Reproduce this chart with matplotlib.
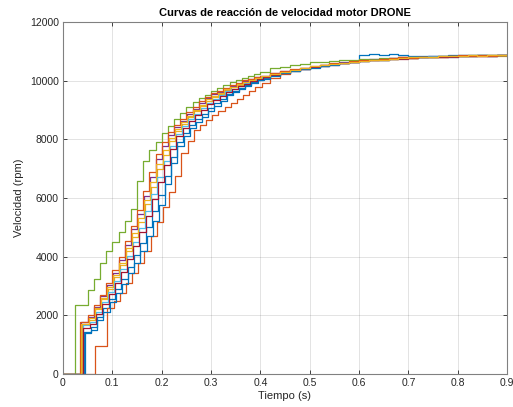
import numpy as np
import matplotlib
matplotlib.use("Agg")
import matplotlib.pyplot as plt

plt.rcParams["font.family"] = ["Liberation Sans", "DejaVu Sans"]

# MATLAB default colour order
BLUE, ORANGE, YELLOW, PURPLE = "#0072BD", "#D95319", "#EDB120", "#7E2F8E"
GREEN, LBLUE, DRED = "#77AC30", "#4DBEEE", "#A2142F"

DT = 0.0125
RISE_T = 0.0375 + DT * np.arange(1, 30)           # shared rise sample times (cluster)
TAIL_T = np.round(0.42 + 0.02 * np.arange(25), 3)  # shared tail sample times

# cluster curves: start time, first level, time shift, rise values, tail values
c1_t0, c1_lvl, c1_dt = 0.043, 1440, 0.006
c1_rise = [1600, 1930, 2240, 2570, 2910, 3250, 3650, 4040, 4480, 5010, 5540, 6100, 6760, 7410,
           7920, 8230, 8500, 8690, 8880, 9060, 9230, 9390, 9550, 9650, 9750, 9850, 9950, 10030, 10090]
c1_tail = [10180, 10270, 10340, 10400, 10460, 10510, 10560, 10600, 10640, 10860, 10900, 10870, 10920,
           10880, 10840, 10830, 10850, 10840, 10860, 10870, 10880, 10870, 10890, 10880, 10880]

c3_t0, c3_lvl, c3_dt = 0.038, 1700, 0.003
c3_rise = [1850, 2200, 2540, 2890, 3300, 3710, 4190, 4680, 5180, 5780, 6370, 6980, 7480, 7940,
           8270, 8530, 8760, 8950, 9130, 9310, 9440, 9560, 9680, 9770, 9860, 9950, 10020, 10090, 10140]
c3_tail = [10230, 10300, 10360, 10430, 10470, 10530, 10560, 10610, 10640, 10690, 10700, 10740, 10740,
           10770, 10780, 10800, 10820, 10810, 10840, 10850, 10840, 10860, 10870, 10850, 10870]

c4_t0, c4_lvl, c4_dt = 0.036, 1760, 0.001
c4_rise = [1950, 2300, 2660, 3020, 3460, 3890, 4410, 4930, 5460, 6080, 6710, 7330, 7770, 8150,
           8420, 8640, 8860, 9050, 9240, 9410, 9530, 9630, 9720, 9820, 9900, 9990, 10050, 10110, 10160]
c4_tail = [10250, 10320, 10370, 10440, 10480, 10550, 10570, 10630, 10650, 10690, 10740, 10730, 10770,
           10800, 10790, 10810, 10830, 10820, 10850, 10840, 10870, 10850, 10880, 10860, 10880]

c6_t0, c6_lvl, c6_dt = 0.041, 1670, 0.004
c6_rise = [1780, 2120, 2450, 2800, 3180, 3570, 4030, 4490, 4970, 5550, 6120, 6720, 7260, 7780,
           8170, 8440, 8680, 8870, 9060, 9240, 9380, 9510, 9640, 9730, 9830, 9920, 10000, 10070, 10120]
c6_tail = [10210, 10290, 10370, 10410, 10480, 10510, 10570, 10590, 10650, 10680, 10720, 10710, 10760,
           10770, 10800, 10790, 10830, 10840, 10820, 10860, 10850, 10870, 10840, 10880, 10870]

c7_t0, c7_lvl, c7_dt = 0.040, 1560, 0.005
c7_rise = [1720, 2060, 2390, 2730, 3100, 3480, 3920, 4360, 4830, 5390, 5950, 6540, 7120, 7670,
           8100, 8380, 8630, 8820, 9000, 9190, 9340, 9470, 9610, 9710, 9810, 9900, 9980, 10060, 10110]
c7_tail = [10200, 10270, 10350, 10400, 10460, 10510, 10550, 10590, 10630, 10670, 10690, 10710, 10740,
           10750, 10770, 10790, 10800, 10810, 10820, 10830, 10840, 10850, 10840, 10860, 10860]

c8_t0, c8_lvl, c8_dt = 0.045, 1400, 0.007
c8_rise = [1500, 1830, 2130, 2440, 2750, 3070, 3430, 3790, 4200, 4700, 5200, 5750, 6470, 7200,
           7770, 8110, 8390, 8580, 8770, 8960, 9140, 9320, 9500, 9600, 9710, 9810, 9920, 10010, 10070]
c8_tail = [10160, 10250, 10330, 10390, 10440, 10500, 10550, 10590, 10630, 10680, 10700, 10720, 10740,
           10770, 10780, 10800, 10810, 10830, 10830, 10840, 10850, 10860, 10850, 10860, 10860]

c9_t0, c9_lvl, c9_dt = 0.035, 1780, 0.0
c9_rise = [2000, 2360, 2710, 3090, 3540, 3980, 4520, 5060, 5600, 6240, 6870, 7510, 7910, 8250,
           8490, 8700, 8920, 9110, 9290, 9460, 9570, 9660, 9750, 9840, 9930, 10010, 10060, 10120, 10170]
c9_tail = [10260, 10320, 10390, 10440, 10500, 10530, 10590, 10610, 10670, 10700, 10710, 10750, 10760,
           10790, 10780, 10820, 10810, 10840, 10830, 10860, 10850, 10870, 10850, 10880, 10870]

c10_t0, c10_lvl, c10_dt = 0.037, 1720, 0.002
c10_rise = [1900, 2250, 2600, 2960, 3380, 3800, 4300, 4800, 5320, 5930, 6540, 7160, 7620, 8040,
            8350, 8580, 8810, 9000, 9180, 9360, 9490, 9590, 9700, 9790, 9880, 9970, 10030, 10100, 10150]
c10_tail = [10240, 10300, 10380, 10430, 10490, 10520, 10580, 10600, 10650, 10680, 10710, 10720, 10750,
            10770, 10790, 10800, 10810, 10830, 10840, 10840, 10860, 10850, 10870, 10860, 10860]

# lagging curve (orange) and leading curve (green), own start and step grid
c2_t0 = 0.065
c2_rise = [950, 950, 2240, 2500, 2760, 3110, 3450, 3790, 4200, 4700, 5190, 5710, 6220, 6740,
           7540, 7960, 8330, 8500, 8670, 8820, 8960, 9100, 9240, 9380, 9520, 9660, 9790, 9910]
c2_tail = [10080, 10220, 10320, 10410, 10470, 10520, 10560, 10600, 10640, 10670, 10700, 10720, 10740,
           10770, 10780, 10800, 10810, 10820, 10830, 10840, 10840, 10850, 10850, 10860, 10860]

c5_t0 = 0.025
c5_rise = [2350, 2350, 2850, 3230, 3770, 4200, 4510, 4840, 5210, 5640, 6580, 7250, 7630, 7920,
           8200, 8450, 8690, 8900, 9110, 9280, 9400, 9520, 9640, 9740, 9850, 9960, 10030, 10100,
           10170, 10230, 10300]
c5_tail = [10420, 10480, 10540, 10580, 10620, 10650, 10680, 10700, 10720, 10740, 10750, 10770, 10780,
           10790, 10800, 10810, 10820, 10840, 10850, 10850, 10860, 10870, 10880, 10870, 10880]


def cluster(t0, lvl, shift, rise, tail):
    t = np.concatenate([[0.0, t0], RISE_T + shift, TAIL_T])
    v = np.concatenate([[0.0, lvl], rise, tail])
    return t, v


def own_grid(t0, rise, tail):
    t = np.concatenate([[0.0], t0 + DT * np.arange(len(rise)), TAIL_T])
    v = np.concatenate([[0.0], rise, tail])
    return t, v


curves = [
    (cluster(c1_t0, c1_lvl, c1_dt, c1_rise, c1_tail), BLUE),
    (own_grid(c2_t0, c2_rise, c2_tail), ORANGE),
    (cluster(c3_t0, c3_lvl, c3_dt, c3_rise, c3_tail), YELLOW),
    (cluster(c4_t0, c4_lvl, c4_dt, c4_rise, c4_tail), PURPLE),
    (own_grid(c5_t0, c5_rise, c5_tail), GREEN),
    (cluster(c6_t0, c6_lvl, c6_dt, c6_rise, c6_tail), LBLUE),
    (cluster(c7_t0, c7_lvl, c7_dt, c7_rise, c7_tail), DRED),
    (cluster(c8_t0, c8_lvl, c8_dt, c8_rise, c8_tail), BLUE),
    (cluster(c9_t0, c9_lvl, c9_dt, c9_rise, c9_tail), ORANGE),
    (cluster(c10_t0, c10_lvl, c10_dt, c10_rise, c10_tail), YELLOW),
]

fig = plt.figure(figsize=(5.13, 4.07), dpi=100)
ax = fig.add_axes([63 / 513, 33 / 407, 444 / 513, 352 / 407])

for (t, v), col in curves:
    ax.step(t, v, where="post", color=col, lw=0.9)

ax.set_xlim(0, 0.9)
ax.set_ylim(0, 12000)
ax.set_xticks(np.arange(0, 0.91, 0.1))
ax.set_xticklabels(["0", "0.1", "0.2", "0.3", "0.4", "0.5", "0.6", "0.7", "0.8", "0.9"])
ax.set_yticks(np.arange(0, 12001, 2000))
ax.grid(True, color="#262626", alpha=0.15, lw=0.6)
ax.set_axisbelow(True)
for s in ax.spines.values():
    s.set_color("#808080")
    s.set_linewidth(0.8)
ax.tick_params(direction="in", length=3, width=0.6, colors="#262626", labelsize=7.5,
               top=True, right=True, pad=3)
ax.set_title("Curvas de reacción de velocidad motor DRONE", fontsize=8, fontweight="bold",
             color="#000000", pad=4)
ax.set_xlabel("Tiempo (s)", fontsize=8, color="#262626", labelpad=2)
ax.set_ylabel("Velocidad (rpm)", fontsize=8, color="#262626", labelpad=4)

fig.savefig("out.png", dpi=100, facecolor="white")
